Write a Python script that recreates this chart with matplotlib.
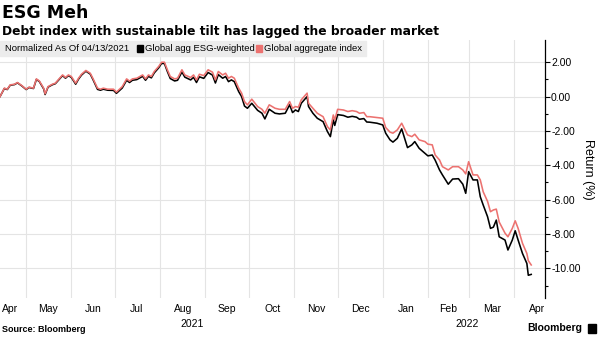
"""Recreate the Bloomberg 'ESG Meh' chart: ESG-weighted vs. global aggregate bond index."""

import matplotlib

matplotlib.use("Agg")

import matplotlib.dates as mdates
import matplotlib.pyplot as plt
import matplotlib.transforms as mtransforms
import pandas as pd
from matplotlib.patches import Rectangle

TITLE = "ESG Meh"
SUBTITLE = "Debt index with sustainable tilt has lagged the broader market"
NOTE = "Normalized As Of 04/13/2021"
SERIES_NAMES = ["Global agg ESG-weighted", "Global aggregate index"]
SOURCE = "Source: Bloomberg"

dates = [
    "2021-04-13", "2021-04-16", "2021-04-18", "2021-04-20", "2021-04-23", "2021-04-25",
    "2021-04-28", "2021-05-01", "2021-05-03", "2021-05-06", "2021-05-08", "2021-05-10",
    "2021-05-13", "2021-05-14", "2021-05-16", "2021-05-19", "2021-05-21", "2021-05-23",
    "2021-05-26", "2021-05-28", "2021-05-30", "2021-06-01", "2021-06-04", "2021-06-06",
    "2021-06-08", "2021-06-11", "2021-06-14", "2021-06-16", "2021-06-19", "2021-06-21",
    "2021-06-23", "2021-06-26", "2021-06-30", "2021-07-02", "2021-07-06", "2021-07-09",
    "2021-07-11", "2021-07-13", "2021-07-16", "2021-07-20", "2021-07-22", "2021-07-24",
    "2021-07-26", "2021-07-28", "2021-07-31", "2021-08-02", "2021-08-04", "2021-08-06",
    "2021-08-08", "2021-08-11", "2021-08-13", "2021-08-16", "2021-08-18", "2021-08-22",
    "2021-08-24", "2021-08-26", "2021-08-28", "2021-08-31", "2021-09-03", "2021-09-06",
    "2021-09-08", "2021-09-10", "2021-09-13", "2021-09-15", "2021-09-17", "2021-09-19",
    "2021-09-21", "2021-09-24", "2021-09-26", "2021-09-28", "2021-09-30", "2021-10-03",
    "2021-10-07", "2021-10-10", "2021-10-12", "2021-10-15", "2021-10-19", "2021-10-22",
    "2021-10-26", "2021-10-29", "2021-10-31", "2021-11-02", "2021-11-04", "2021-11-06",
    "2021-11-10", "2021-11-11", "2021-11-14", "2021-11-17", "2021-11-21", "2021-11-24",
    "2021-11-26", "2021-11-28", "2021-11-29", "2021-12-01", "2021-12-05", "2021-12-08",
    "2021-12-11", "2021-12-14", "2021-12-16", "2021-12-19", "2021-12-21", "2021-12-23",
    "2021-12-28", "2022-01-01", "2022-01-03", "2022-01-06", "2022-01-08", "2022-01-11",
    "2022-01-14", "2022-01-18", "2022-01-21", "2022-01-23", "2022-01-26", "2022-01-30",
    "2022-02-01", "2022-02-04", "2022-02-06", "2022-02-09", "2022-02-11", "2022-02-15",
    "2022-02-18", "2022-02-22", "2022-02-25", "2022-02-27", "2022-03-01", "2022-03-04",
    "2022-03-07", "2022-03-09", "2022-03-11", "2022-03-14", "2022-03-16", "2022-03-18",
    "2022-03-20", "2022-03-22", "2022-03-26", "2022-03-28", "2022-03-31", "2022-04-02",
    "2022-04-04", "2022-04-07", "2022-04-10", "2022-04-11", "2022-04-13",
]

aggregate_index = [
    0.00, 0.49, 0.43, 0.68, 0.72, 0.82,
    0.64, 0.43, 0.55, 0.49, 1.03, 0.91,
    0.49, 0.16, 0.58, 0.72, 0.78, 0.97,
    1.26, 1.11, 1.26, 1.17, 0.78, 1.07,
    1.30, 1.52, 1.36, 1.03, 0.49, 0.43,
    0.49, 0.43, 0.43, 0.26, 0.58, 1.03,
    0.90, 1.03, 1.07, 1.26, 1.03, 1.26,
    1.17, 1.46, 1.75, 2.00, 2.00, 1.56,
    1.17, 1.03, 1.07, 1.56, 1.26, 1.11,
    1.26, 0.97, 1.30, 1.22, 1.56, 1.42,
    0.97, 1.46, 1.26, 1.36, 1.07, 1.17,
    1.07, 0.49, 0.20, -0.29, -0.48, -0.15,
    -0.58, -0.74, -0.97, -0.48, -0.68, -0.74,
    -0.74, -0.29, -0.68, -0.58, -0.62, -0.19,
    0.20, -0.39, -0.68, -0.97, -1.17, -1.75,
    -1.94, -1.07, -1.36, -0.74, -0.78, -0.87,
    -0.82, -0.87, -0.97, -0.93, -1.17, -1.17,
    -1.22, -1.26, -1.80, -2.07, -2.13, -1.94,
    -1.55, -2.23, -2.33, -2.19, -2.52, -2.62,
    -2.77, -2.81, -3.40, -3.69, -4.08, -4.27,
    -4.08, -4.08, -4.27, -4.50, -3.79, -4.56,
    -4.56, -4.85, -5.54, -6.10, -6.70, -6.60,
    -6.55, -7.30, -7.95, -8.16, -7.67, -7.23,
    -7.67, -8.54, -9.13, -9.55, -9.80,
]

esg_weighted = [
    0.00, 0.47, 0.41, 0.66, 0.70, 0.80,
    0.62, 0.41, 0.53, 0.47, 1.00, 0.88,
    0.45, 0.12, 0.55, 0.69, 0.75, 0.94,
    1.22, 1.07, 1.22, 1.12, 0.72, 1.02,
    1.25, 1.48, 1.31, 0.97, 0.42, 0.37,
    0.43, 0.37, 0.36, 0.19, 0.50, 0.95,
    0.82, 0.95, 0.99, 1.18, 0.95, 1.18,
    1.09, 1.38, 1.67, 1.93, 1.92, 1.46,
    1.05, 0.91, 0.95, 1.43, 1.13, 0.97,
    1.12, 0.82, 1.15, 1.06, 1.40, 1.25,
    0.79, 1.28, 1.07, 1.17, 0.87, 0.97,
    0.87, 0.29, 0.00, -0.55, -0.68, -0.39,
    -0.80, -0.97, -1.30, -0.74, -0.97, -1.01,
    -0.97, -0.48, -0.93, -0.78, -0.87, -0.39,
    0.00, -0.58, -0.97, -1.26, -1.46, -2.04,
    -2.33, -1.36, -1.68, -1.05, -1.10, -1.20,
    -1.15, -1.20, -1.32, -1.28, -1.48, -1.49,
    -1.55, -1.65, -2.13, -2.52, -2.65, -2.43,
    -1.88, -2.97, -2.81, -2.62, -3.01, -3.30,
    -3.45, -3.40, -3.70, -4.27, -4.56, -5.10,
    -4.80, -4.78, -5.10, -5.63, -4.37, -4.85,
    -4.85, -5.83, -6.31, -6.99, -7.67, -7.60,
    -7.19, -8.16, -8.35, -8.93, -8.35, -7.81,
    -8.35, -9.13, -9.71, -10.40, -10.35,
]

month_label_dates = [
    "2021-04-20", "2021-05-16", "2021-06-16", "2021-07-16", "2021-08-17",
    "2021-09-16", "2021-10-17", "2021-11-16", "2021-12-17", "2022-01-17",
    "2022-02-15", "2022-03-17", "2022-04-17",
]
month_labels = [
    "Apr", "May", "Jun", "Jul", "Aug", "Sep", "Oct",
    "Nov", "Dec", "Jan", "Feb", "Mar", "Apr",
]
year_label_dates = ["2021-08-23", "2022-02-28"]
year_labels = ["2021", "2022"]
y_ticks = [2, 0, -2, -4, -6, -8, -10]

ESG_COLOR = "#000000"
AGG_COLOR = "#ec7270"
GRID_COLOR = "#e4e4e4"
BAND_COLOR = "#ececec"
BODY_FONT = ["Liberation Sans", "DejaVu Sans"]


def _draw_chart():
    """Draw both index lines with Bloomberg-style axes and annotations."""
    plt.rcParams["axes.unicode_minus"] = False
    plt.rcParams["font.family"] = BODY_FONT

    figure = plt.figure(figsize=(6.0, 3.38), dpi=100)
    axes = figure.add_axes([0.0, 0.118, 0.908, 0.764])

    x = pd.to_datetime(dates)
    axes.plot(x, esg_weighted, color=ESG_COLOR, linewidth=1.15, zorder=3)
    axes.plot(x, aggregate_index, color=AGG_COLOR, linewidth=1.15, zorder=4)

    axes.set_xlim(pd.Timestamp("2021-04-13"), pd.Timestamp("2022-04-22 08:00"))
    axes.set_ylim(-11.73, 3.30)

    # month starts carry the grid, mid-month ticks carry the labels
    axes.xaxis.set_major_locator(mdates.MonthLocator())
    axes.xaxis.set_major_formatter(plt.NullFormatter())
    axes.set_xticks(pd.to_datetime(month_label_dates), labels=month_labels, minor=True)
    axes.tick_params(axis="x", which="both", length=0, labelsize=7.5, pad=4.5, colors="#000000")

    axes.yaxis.tick_right()
    axes.set_yticks(y_ticks)
    axes.set_yticks([1, -1, -3, -5, -7, -9, -11], minor=True)
    axes.yaxis.set_major_formatter(plt.FormatStrFormatter("%.2f"))
    axes.tick_params(axis="y", which="major", length=3.5, width=0.8, labelsize=7.5, pad=1)
    axes.tick_params(axis="y", which="minor", length=2.5, width=0.8)
    axes.set_ylabel("Return (%)", rotation=270, fontsize=9, va="center")
    axes.yaxis.set_label_position("right")
    axes.yaxis.set_label_coords(1.09, 0.5)

    for side in ("left", "top", "bottom"):
        axes.spines[side].set_visible(False)
    axes.spines["right"].set_linewidth(0.9)
    axes.grid(True, which="major", color=GRID_COLOR, linewidth=0.8)
    axes.set_axisbelow(True)

    year_transform = mtransforms.blended_transform_factory(axes.transData, figure.transFigure)
    for when, label in zip(year_label_dates, year_labels):
        axes.text(pd.Timestamp(when), 1 - 324 / 338, label, transform=year_transform,
                  ha="center", va="center", fontsize=7.5)

    # titles
    figure.text(0.003, 0.962, TITLE, fontsize=12.5, fontweight="bold",
                family="DejaVu Sans", va="center")
    figure.text(0.003, 0.908, SUBTITLE, fontsize=8.8, fontweight="bold",
                family="DejaVu Sans", va="center")

    # legend band across the top of the plot
    band_y = 1 - 56 / 338
    figure.add_artist(Rectangle((0.0, band_y), 366 / 600, 15 / 338,
                                transform=figure.transFigure, color=BAND_COLOR, zorder=5))
    text_y = 1 - 48.5 / 338
    figure.text(5 / 600, text_y, NOTE, fontsize=6.8, va="center", zorder=6)
    for left, color, name in zip((137, 256), (ESG_COLOR, AGG_COLOR), SERIES_NAMES):
        figure.add_artist(Rectangle((left / 600, text_y - 3.5 / 338), 6 / 600, 7 / 338,
                                    transform=figure.transFigure, color=color, zorder=6))
        figure.text((left + 8) / 600, text_y, name, fontsize=6.8, va="center", zorder=6)

    # footer
    figure.text(0.004, 1 - 330 / 338, SOURCE, fontsize=6.5, fontweight="bold", va="center")
    figure.text(582 / 600, 1 - 328 / 338, "Bloomberg", fontsize=7.5, fontweight="bold",
                ha="right", va="center")
    figure.add_artist(Rectangle((588 / 600, 1 - 333 / 338), 8 / 600, 9 / 338,
                                transform=figure.transFigure, color="#000000"))
    return figure


def main():
    figure = _draw_chart()
    figure.savefig("out.png", dpi=100)


if __name__ == "__main__":
    main()
